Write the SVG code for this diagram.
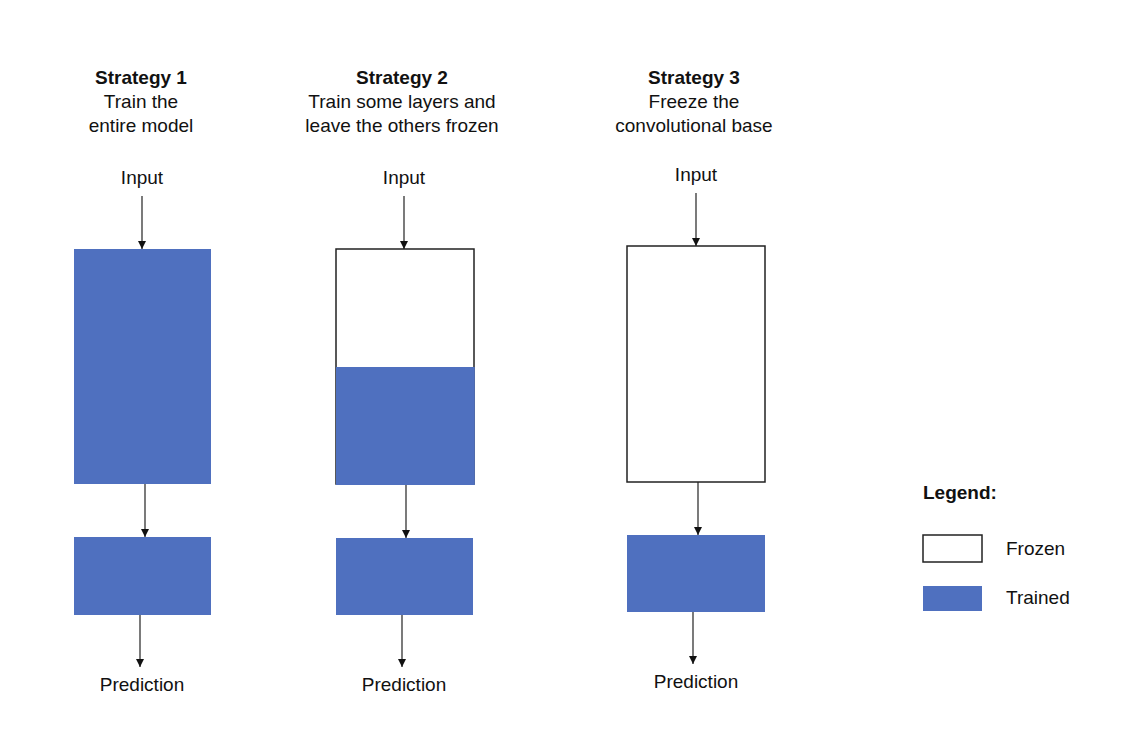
<svg xmlns="http://www.w3.org/2000/svg" width="1122" height="743" viewBox="0 0 1122 743">
<style>
text{font-family:"Liberation Sans",Arial,sans-serif;font-size:19px;fill:#111;text-anchor:middle}
.b{font-weight:bold}
.l{text-anchor:start}
.trained{fill:#4f70bf;stroke:none}
.frozen{fill:#fff;stroke:#222;stroke-width:1.5}
.conn line{stroke:#222;stroke-width:1.2;marker-end:url(#ah)}
</style>
<defs>
<marker id="ah" viewBox="0 0 10 10" refX="10" refY="5" markerWidth="8" markerHeight="8" markerUnits="userSpaceOnUse" orient="auto">
<path d="M0,0 L10,5 L0,10 z" fill="#111"/>
</marker>
</defs>
<rect width="1122" height="743" fill="#fff"/>
<g id="title1"><text class="b" x="141" y="84">Strategy 1</text><text x="141" y="108">Train the</text><text x="141" y="132">entire model</text></g>
<g id="title2"><text class="b" x="402" y="84">Strategy 2</text><text x="402" y="108">Train some layers and</text><text x="402" y="132">leave the others frozen</text></g>
<g id="title3"><text class="b" x="694" y="84">Strategy 3</text><text x="694" y="108">Freeze the</text><text x="694" y="132">convolutional base</text></g>
<g id="input1"><text x="142" y="184">Input</text></g>
<g id="input2"><text x="404" y="184">Input</text></g>
<g id="input3"><text x="696" y="181">Input</text></g>
<g id="base1"><rect class="trained" x="74" y="249" width="137" height="235"/></g>
<g id="base2"><rect class="frozen" x="336" y="249" width="138" height="235"/><rect class="trained" x="336" y="367" width="138.8" height="118"/></g>
<g id="base3"><rect class="frozen" x="627" y="246" width="138" height="236"/></g>
<g id="head1"><rect class="trained" x="74" y="537" width="137" height="78"/></g>
<g id="head2"><rect class="trained" x="336" y="538" width="137" height="77"/></g>
<g id="head3"><rect class="trained" x="627" y="535" width="138" height="77"/></g>
<g id="pred1"><text x="142" y="691">Prediction</text></g>
<g id="pred2"><text x="404" y="691">Prediction</text></g>
<g id="pred3"><text x="696" y="688">Prediction</text></g>
<g id="legend">
<text class="b l" x="923" y="499">Legend:</text>
<rect class="frozen" x="923" y="535" width="59" height="27"/>
<text class="l" x="1006" y="555">Frozen</text>
<rect class="trained" x="923" y="586" width="59" height="25"/>
<text class="l" x="1006" y="604">Trained</text>
</g>
<g id="connectors" class="conn">
<line x1="142" y1="196" x2="142" y2="249"/>
<line x1="145" y1="484" x2="145" y2="537"/>
<line x1="140" y1="615" x2="140" y2="667"/>
<line x1="404" y1="196" x2="404" y2="249"/>
<line x1="406" y1="485" x2="406" y2="538"/>
<line x1="402" y1="615" x2="402" y2="667"/>
<line x1="696" y1="193" x2="696" y2="246"/>
<line x1="698" y1="482" x2="698" y2="535"/>
<line x1="693" y1="612" x2="693" y2="664"/>
</g>
</svg>
